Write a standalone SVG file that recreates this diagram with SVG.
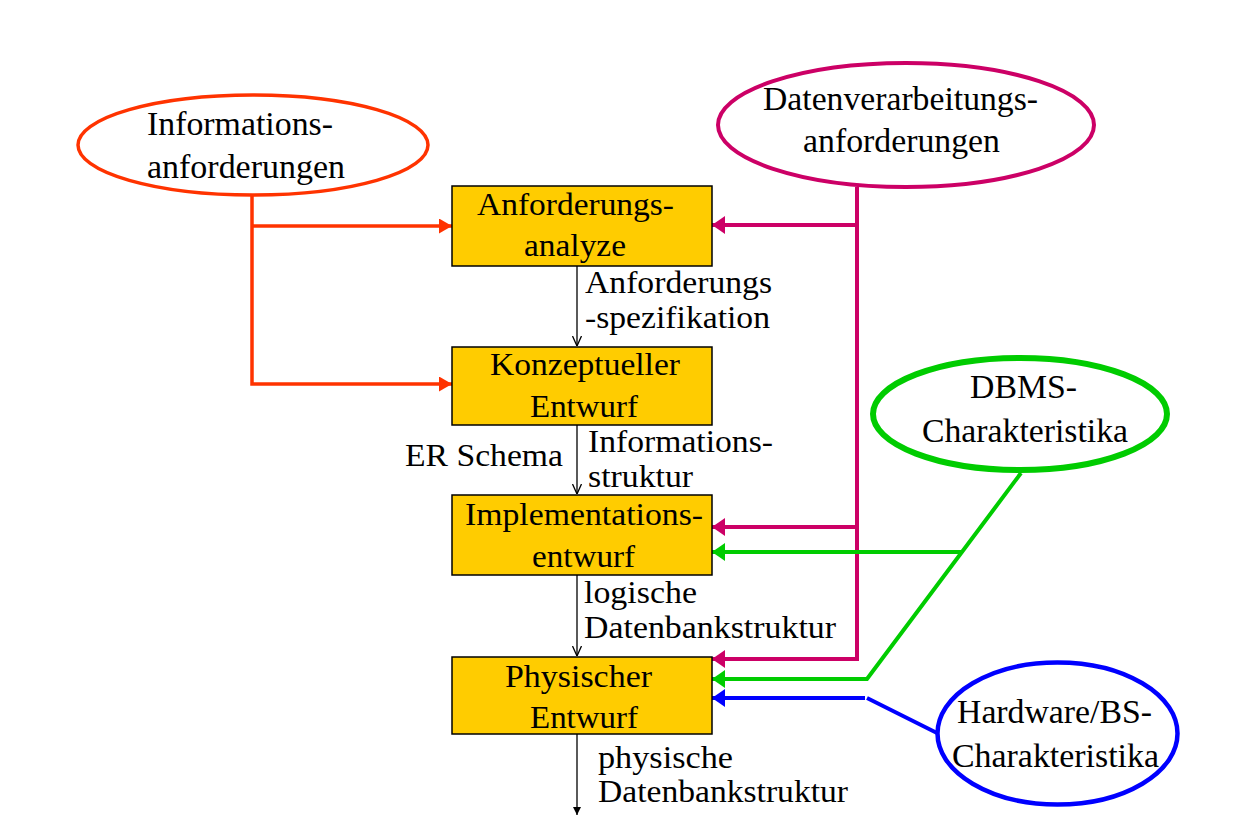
<svg xmlns="http://www.w3.org/2000/svg" width="1254" height="820" viewBox="0 0 1254 820">
<style>
text{font-family:"Liberation Serif","Times New Roman",serif;font-size:31px;fill:#000}
.et{font-size:33px}
.box{fill:#FFCC00;stroke:#000;stroke-width:1.5}
.ell{fill:#fff}
.red{stroke:#FF3300;stroke-width:3.5;fill:none}
.mag{stroke:#CC0066;stroke-width:4;fill:none}
.grn{stroke:#00CC00;stroke-width:4;fill:none}
.blu{stroke:#0000FF;stroke-width:4;fill:none}
.blk{stroke:#000;stroke-width:1.3;fill:none}
</style>
<defs>
<marker id="ar" viewBox="0 0 13 15" refX="13" refY="7.5" markerWidth="13" markerHeight="15" markerUnits="userSpaceOnUse" orient="auto"><path d="M0,0L13,7.5L0,15z" fill="#FF3300"/></marker>
<marker id="am" viewBox="0 0 13 18" refX="13" refY="9" markerWidth="13" markerHeight="18" markerUnits="userSpaceOnUse" orient="auto"><path d="M0,0L13,9L0,18z" fill="#CC0066"/></marker>
<marker id="ag" viewBox="0 0 13 18" refX="13" refY="9" markerWidth="13" markerHeight="18" markerUnits="userSpaceOnUse" orient="auto"><path d="M0,0L13,9L0,18z" fill="#00CC00"/></marker>
<marker id="ab" viewBox="0 0 13 18" refX="13" refY="9" markerWidth="13" markerHeight="18" markerUnits="userSpaceOnUse" orient="auto"><path d="M0,0L13,9L0,18z" fill="#0000FF"/></marker>
<marker id="av" viewBox="0 0 10 10" refX="10" refY="5" markerWidth="10" markerHeight="10" markerUnits="userSpaceOnUse" orient="auto"><path d="M0,0.5L10,5L0,9.5" fill="none" stroke="#000" stroke-width="1.3"/></marker>
<marker id="af" viewBox="0 0 8 8" refX="8" refY="4" markerWidth="8" markerHeight="8" markerUnits="userSpaceOnUse" orient="auto"><path d="M0,0L8,4L0,8z" fill="#000"/></marker>
</defs>

<g id="connectors">
<path class="red" d="M252,195V384H452" marker-end="url(#ar)"/>
<path class="red" d="M252,226H452" marker-end="url(#ar)"/>
<path class="mag" d="M857,187V659H712" marker-end="url(#am)"/>
<path class="mag" d="M857,225H712" marker-end="url(#am)"/>
<path class="mag" d="M857,527H712" marker-end="url(#am)"/>
<path class="grn" d="M1021,473L867,679H712" marker-end="url(#ag)"/>
<path class="grn" d="M961,552H712" marker-end="url(#ag)"/>
<path class="blu" d="M865,698H712" marker-end="url(#ab)"/>
<path class="blu" d="M867,698L939,734"/>
<path class="blk" d="M577,266V346" marker-end="url(#av)"/>
<path class="blk" d="M577,425V494" marker-end="url(#av)"/>
<path class="blk" d="M577,575V656" marker-end="url(#av)"/>
<path class="blk" d="M577,734V815" marker-end="url(#af)"/>
<text x="585" y="293" textLength="187" lengthAdjust="spacingAndGlyphs">Anforderungs</text>
<text x="585" y="328" textLength="185" lengthAdjust="spacingAndGlyphs">-spezifikation</text>
<text x="405" y="466" textLength="158" lengthAdjust="spacingAndGlyphs">ER Schema</text>
<text x="588" y="452" textLength="185" lengthAdjust="spacingAndGlyphs">Informations-</text>
<text x="588" y="487" textLength="105" lengthAdjust="spacingAndGlyphs">struktur</text>
<text x="584" y="603" textLength="113" lengthAdjust="spacingAndGlyphs">logische</text>
<text x="584" y="638" textLength="252" lengthAdjust="spacingAndGlyphs">Datenbankstruktur</text>
<text x="598" y="768" textLength="135" lengthAdjust="spacingAndGlyphs">physische</text>
<text x="598" y="802" textLength="250" lengthAdjust="spacingAndGlyphs">Datenbankstruktur</text>
</g>

<g id="info">
<ellipse class="ell" cx="253" cy="145" rx="175" ry="50" stroke="#FF3300" stroke-width="3.5"/>
<text class="et" x="147" y="135" textLength="186" lengthAdjust="spacingAndGlyphs">Informations-</text>
<text class="et" x="147" y="178" textLength="198" lengthAdjust="spacingAndGlyphs">anforderungen</text>
</g>

<g id="datenverarbeitung">
<ellipse class="ell" cx="906" cy="125" rx="188" ry="62" stroke="#CC0066" stroke-width="4"/>
<text class="et" x="763" y="110" textLength="275" lengthAdjust="spacingAndGlyphs">Datenverarbeitungs-</text>
<text class="et" x="803" y="152" textLength="197" lengthAdjust="spacingAndGlyphs">anforderungen</text>
</g>

<g id="dbms">
<ellipse class="ell" cx="1020" cy="414" rx="147" ry="56" stroke="#00CC00" stroke-width="6"/>
<text class="et" x="970" y="398" textLength="107" lengthAdjust="spacingAndGlyphs">DBMS-</text>
<text class="et" x="922" y="442" textLength="206" lengthAdjust="spacingAndGlyphs">Charakteristika</text>
</g>

<g id="hardware">
<ellipse class="ell" cx="1057.5" cy="733.5" rx="120" ry="71" stroke="#0000FF" stroke-width="4.5"/>
<text class="et" x="957" y="723" textLength="195" lengthAdjust="spacingAndGlyphs">Hardware/BS-</text>
<text class="et" x="952" y="767" textLength="207" lengthAdjust="spacingAndGlyphs">Charakteristika</text>
</g>

<g id="anforderungsanalyze">
<rect class="box" x="452" y="186" width="260" height="80"/>
<text x="477" y="215" textLength="197" lengthAdjust="spacingAndGlyphs">Anforderungs-</text>
<text x="524" y="256" textLength="102" lengthAdjust="spacingAndGlyphs">analyze</text>
</g>

<g id="konzeptueller">
<rect class="box" x="452" y="347" width="260" height="78"/>
<text x="490" y="375" textLength="190" lengthAdjust="spacingAndGlyphs">Konzeptueller</text>
<text x="530" y="417" textLength="108" lengthAdjust="spacingAndGlyphs">Entwurf</text>
</g>

<g id="implementation">
<rect class="box" x="452" y="495" width="260" height="80"/>
<text x="465" y="525" textLength="238" lengthAdjust="spacingAndGlyphs">Implementations-</text>
<text x="532" y="567" textLength="103" lengthAdjust="spacingAndGlyphs">entwurf</text>
</g>

<g id="physischer">
<rect class="box" x="452" y="657" width="260" height="77"/>
<text x="505" y="687" textLength="147" lengthAdjust="spacingAndGlyphs">Physischer</text>
<text x="530" y="728" textLength="108" lengthAdjust="spacingAndGlyphs">Entwurf</text>
</g>
</svg>
